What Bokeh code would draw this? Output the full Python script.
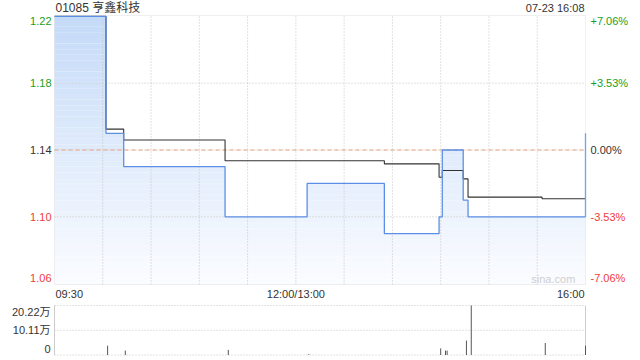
from bokeh.plotting import figure
from bokeh.models import Label, Range1d, BoxAnnotation
from bokeh.core.properties import value
from bokeh.embed import file_html
from bokeh.resources import INLINE

# ---------------- data ----------------
title_text = "01085 亨鑫科技"
stamp_text = "07-23 16:08"
prev_close = 1.14

price_times = ["09:30", "10:02", "10:13", "11:16", "13:07", "13:55", "14:29", "14:31", "14:44", "14:47", "16:00"]
price_vals = [1.22, 1.15, 1.13, 1.10, 1.12, 1.09, 1.10, 1.14, 1.11, 1.10, 1.15]

avg_times = ["09:30", "10:02", "10:13", "11:16", "13:55", "14:29", "14:31", "14:44", "14:47", "15:33", "16:00"]
avg_vals = [1.22, 1.1525, 1.146, 1.1336, 1.1317, 1.1237, 1.1277, 1.1227, 1.1118, 1.1108, 1.1108]

vol_times = ["10:03", "10:14", "11:18", "13:08", "14:30", "14:33", "14:34", "14:46", "14:49", "15:35", "16:00"]
vol_vals = [3.8, 1.8, 2.1, 0.3, 2.7, 1.8, 1.8, 5.9, 20.22, 4.9, 3.8]  # 万

price_ticks = [1.22, 1.18, 1.14, 1.10, 1.06]
price_tick_labels = ["1.22", "1.18", "1.14", "1.10", "1.06"]
pct_tick_labels = ["+7.06%", "+3.53%", "0.00%", "-3.53%", "-7.06%"]
vol_ticks = [20.22, 10.11, 0]
vol_tick_labels = ["20.22万", "10.11万", "0"]
time_ticks = ["09:30", "12:00", "16:00"]
time_tick_labels = ["09:30", "12:00/13:00", "16:00"]
grid_times = ["10:00", "10:30", "11:00", "11:30", "12:00", "13:30", "14:00", "14:30", "15:00", "15:30"]

# ---------------- helpers ----------------
def tmin(s):
    h, m = map(int, s.split(":"))
    t = h * 60 + m
    return t - 570 if t <= 720 else t - 780 + 150

GREEN = "#1c9e1c"
RED = "#f03c3c"
DARK = "#333333"
FONT = "Liberation Sans, Noto Sans CJK SC"
GRID = "#c4c4c4"
BORDER = "#cccccc"

W, H = 640, 360
# pixel layout of the panels
L, R = 54, 585          # price / volume panel left & right
PT, PB = 15, 284        # price panel top / bottom
VT, VB = 305, 354.5     # volume panel top / bottom
T_END = 330

px = [tmin(t) for t in price_times]
ax = [tmin(t) for t in avg_times]
vx = [tmin(t) for t in vol_times]
gx = [tmin(t) for t in grid_times]

ymin = prev_close * (1 - 0.0706)
ymax = prev_close * (1 + 0.0706)

kx = (R - L) / T_END
x_range = Range1d(-L / kx, T_END + (W - R) / kx)
ky = (PB - PT) / (ymax - ymin)
y_range = Range1d(ymin - (H - PB) / ky, ymax + PT / ky)
vmax = vol_ticks[0]
kv = (VB - VT) / vmax
v_range = Range1d(0 - (H - VB) / kv, vmax + VT / kv)

p = figure(width=W, height=H, output_backend="svg", toolbar_location=None,
           x_axis_location=None, y_axis_location=None,
           x_range=x_range, y_range=y_range,
           min_border_left=0, min_border_right=0, min_border_top=0, min_border_bottom=0)
p.extra_y_ranges = {"vol": v_range}
p.grid.visible = False
p.background_fill_color = "white"
p.border_fill_color = "white"
p.outline_line_color = None

# gradient fill under price line (banded)
nb = 48
top_c = (196, 218, 248)
bot_c = (251, 252, 255)
for k in range(nb):
    lo = ymin + (ymax - ymin) * k / nb
    hi = ymin + (ymax - ymin) * (k + 1) / nb
    f = (k + 0.5) / nb
    c = tuple(int(round(bot_c[i] + (top_c[i] - bot_c[i]) * f)) for i in range(3))
    y2 = [min(max(vv, lo), hi) for vv in price_vals]
    p.varea_step(x=px, y1=[lo] * len(px), y2=y2, step_mode="after",
                 fill_color="#%02x%02x%02x" % c)

# price grids
p.segment(x0=gx, y0=[ymin] * len(gx), x1=gx, y1=[ymax] * len(gx),
          line_color=GRID, line_dash="1 2", line_width=1)
inner = price_ticks[1:-1]
p.segment(x0=[0] * len(inner), y0=inner, x1=[T_END] * len(inner), y1=inner,
          line_color=GRID, line_dash="1 2", line_width=1)
p.segment(x0=[0], y0=[prev_close], x1=[T_END], y1=[prev_close],
          line_color="#eea27a", line_dash="4 3", line_width=1)
p.add_layout(BoxAnnotation(left=0, right=T_END, bottom=ymin, top=ymax,
                           fill_color=None, line_color=BORDER, line_width=1))

p.step(x=ax, y=avg_vals, mode="after", line_color="#333333", line_width=1.1)
p.step(x=px, y=price_vals, mode="after", line_color="#5b8fe6", line_width=1.3)

# texts
def lab(x, y, text, color, align, baseline="middle", xo=0, yo=0, size="11px", rn="default"):
    p.add_layout(Label(x=x, y=y, text=text, text_color=color, text_align=align,
                       text_baseline=baseline, x_offset=xo, y_offset=yo,
                       text_font=FONT, text_font_size=size, y_range_name=rn))

cols = [GREEN, GREEN, DARK, RED, RED]
for i, (vv, t1, t2) in enumerate(zip(price_ticks, price_tick_labels, pct_tick_labels)):
    yo = -5 if i == 0 else (6 if i == len(price_ticks) - 1 else 0)
    lab(0, vv, t1, cols[i], "right", xo=-3, yo=yo)
    lab(T_END, vv, t2, cols[i], "left", xo=5, yo=yo)

lab(0, ymax, title_text, DARK, "left", xo=1, yo=8, size="12px")
lab(T_END, ymax, stamp_text, DARK, "right", xo=-1, yo=8)
aligns = ["left", "center", "right"]
xos = [1, 0, -1]
for t, s, a, xo in zip(time_ticks, time_tick_labels, aligns, xos):
    lab(tmin(t), ymin, s, DARK, a, xo=xo, yo=-9)
lab(tmin("15:40"), ymin, "sina.com", "#cfcfcf", "center", yo=6)

# ---------------- volume ----------------
p.segment(x0=[0] * len(vol_ticks), y0=vol_ticks, x1=[T_END] * len(vol_ticks), y1=vol_ticks,
          line_color=GRID, line_dash="1 2", line_width=1, y_range_name="vol")
p.segment(x0=[0, T_END], y0=[0, 0], x1=[0, T_END], y1=[vmax, vmax],
          line_color=BORDER, line_width=1, y_range_name="vol")
p.segment(x0=vx, y0=[0] * len(vx), x1=vx, y1=vol_vals, line_color="#555555",
          line_width=1, y_range_name="vol")

for i, (t, s) in enumerate(zip(vol_ticks, vol_tick_labels)):
    yo = -6 if i == 0 else (6 if i == len(vol_ticks) - 1 else 0)
    lab(0, t, s, DARK, "right", xo=-4, yo=yo, rn="vol")

open("out.html", "w").write(file_html(p, INLINE))
